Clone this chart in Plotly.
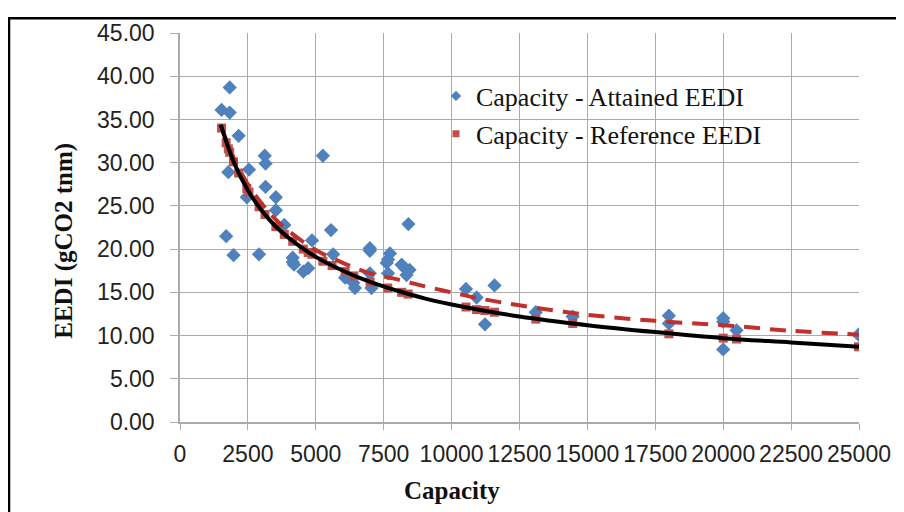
import plotly.graph_objects as go

# Attained EEDI (blue diamonds)
att_cap = [1530, 1830, 1830, 2160, 1780, 1700, 1970, 2540, 2460, 2910, 3120, 3150, 3150,
           3530, 3530, 3840, 4150, 4150, 4200, 4540, 4720, 4860, 5260, 5560, 5640, 6080,
           6380, 6440, 6990, 6990, 6990, 7050, 7610, 7660, 7730, 7660, 8160, 8280, 8450,
           8340, 8410, 10530, 10920, 11230, 11580, 13100, 14460, 18000, 18000, 20000,
           20000, 20000, 20490, 24980]
att_eedi = [36.1, 38.7, 35.8, 33.1, 28.9, 21.5, 19.3, 29.2, 26.0, 19.4, 30.8, 29.9, 27.2,
            26.0, 24.5, 22.8, 19.0, 18.5, 18.2, 17.4, 17.8, 21.0, 30.8, 22.2, 19.4, 16.7,
            16.1, 15.5, 20.1, 19.8, 17.2, 15.5, 18.4, 18.8, 19.5, 17.2, 18.2, 17.8, 17.6,
            17.0, 22.9, 15.4, 14.4, 11.3, 15.8, 12.7, 12.2, 12.3, 11.4, 12.0,
            11.6, 8.4, 10.6, 10.1]

# Reference EEDI (red squares)
ref_cap = [1530, 1700, 1780, 1830, 1970, 2160, 2460, 2540, 2910, 3130, 3530, 3840, 4150,
           4540, 4720, 4860, 5260, 5600, 6080, 6400, 7000, 7650, 8160, 8400, 10530, 10920,
           11230, 11580, 13100, 14460, 18000, 20000, 20490, 24980]
ref_eedi = [34.0, 32.3, 31.6, 31.2, 30.1, 28.8, 27.0, 26.6, 24.9, 24.0, 22.6, 21.7, 20.9,
            20.0, 19.6, 19.4, 18.6, 18.1, 17.4, 16.9, 16.2, 15.5, 15.0, 14.8, 13.3, 13.0,
            12.9, 12.7, 11.9, 11.4, 10.2, 9.7, 9.6, 8.7]

# Solid black curve (reference line)
blk_cap = [1500, 2000, 2500, 3000, 3500, 4000, 5000, 6000, 7000, 8000, 9000, 10000,
           12500, 15000, 17500, 20000, 22500, 25000]
blk_eedi = [34.4, 29.9, 26.8, 24.5, 22.7, 21.3, 19.1, 17.5, 16.2, 15.2, 14.3, 13.6,
            12.2, 11.2, 10.4, 9.7, 9.2, 8.7]

# Dashed red curve (attained trend)
dsh_cap = [1500, 2000, 2500, 3000, 3500, 4000, 5000, 6000, 7000, 8000, 9000, 10000,
           11000, 12500, 15000, 17500, 20000, 22500, 25000]
dsh_eedi = [34.3, 30.4, 27.5, 25.3, 23.5, 22.1, 19.9, 18.4, 17.2, 16.5, 15.7, 15.0,
            14.3, 13.5, 12.4, 11.7, 11.2, 10.55, 10.1]

x_ticks = [0, 2500, 5000, 7500, 10000, 12500, 15000, 17500, 20000, 22500, 25000]
y_ticks = [0, 5, 10, 15, 20, 25, 30, 35, 40, 45]

BLUE = "#4F81BD"
RED = "#C0504D"
GRID = "#ABABAB"

fig = go.Figure()
fig.add_trace(go.Scatter(x=att_cap, y=att_eedi, mode="markers", showlegend=False,
                         marker=dict(symbol="diamond", size=11, color=BLUE)))
fig.add_trace(go.Scatter(x=ref_cap, y=ref_eedi, mode="markers", showlegend=False,
                         marker=dict(symbol="square", size=9, color=RED)))
fig.add_trace(go.Scatter(x=dsh_cap, y=dsh_eedi, mode="lines", showlegend=False,
                         line=dict(color="#C0302D", width=4, dash="16px,10px", shape="spline")))
fig.add_trace(go.Scatter(x=blk_cap, y=blk_eedi, mode="lines", showlegend=False,
                         line=dict(color="black", width=4, shape="spline")))
# legend entries (small symbols as in the original legend)
fig.add_trace(go.Scatter(x=[None], y=[None], mode="markers", name="Capacity - Attained EEDI",
                         marker=dict(symbol="diamond", size=8, color=BLUE), legend="legend"))
fig.add_trace(go.Scatter(x=[None], y=[None], mode="markers", name="Capacity - Reference EEDI",
                         marker=dict(symbol="square", size=7, color=RED), legend="legend2"))

tickfont = dict(family="Liberation Sans, Arial, sans-serif", size=23, color="#222222")
fig.update_xaxes(range=[0, 25000], tickvals=x_ticks, ticktext=[str(v) for v in x_ticks],
                 showgrid=True, gridcolor=GRID, gridwidth=1, zeroline=False,
                 showline=True, linecolor=GRID, linewidth=1.5, tickangle=0,
                 ticks="outside", ticklen=6, tickcolor=GRID, tickfont=tickfont,
                 ticklabelstandoff=5)
fig.update_yaxes(range=[0, 45], tickvals=y_ticks, ticktext=[f"{v:.2f}" for v in y_ticks],
                 showgrid=True, gridcolor=GRID, gridwidth=1, zeroline=False,
                 showline=True, linecolor=GRID, linewidth=1.5,
                 ticks="outside", ticklen=8, tickcolor=GRID, tickfont=tickfont,
                 ticklabelstandoff=11)

serif = "Liberation Serif, Times New Roman, serif"
legfont = dict(family=serif, size=26, color="#111111")
fig.update_layout(
    width=896, height=504,
    margin=dict(l=172, r=45, t=17, b=90),
    paper_bgcolor="white", plot_bgcolor="white",
    legend=dict(x=0.377, y=0.838, xanchor="left", yanchor="middle",
                bgcolor="rgba(0,0,0,0)", font=legfont),
    legend2=dict(x=0.377, y=0.741, xanchor="left", yanchor="middle",
                 bgcolor="rgba(0,0,0,0)", font=legfont),
    annotations=[
        dict(text="<b>EEDI (gCO2 tnm)</b>", xref="paper", yref="paper",
             x=-0.1708, y=0.466, xanchor="center", yanchor="middle",
             textangle=-90, showarrow=False,
             font=dict(family=serif, size=25, color="#111111")),
        dict(text="<b>Capacity</b>", xref="paper", yref="paper",
             x=0.4006, y=-0.176, xanchor="center", yanchor="middle", showarrow=False,
             font=dict(family=serif, size=25, color="#111111")),
    ],
    shapes=[dict(type="rect", xref="paper", yref="paper",
                 x0=-0.2518, y0=-0.3, x1=1.1, y1=1.0378,
                 line=dict(color="black", width=2.5), fillcolor="rgba(0,0,0,0)",
                 layer="below")],
)

fig.write_html("out.html")
